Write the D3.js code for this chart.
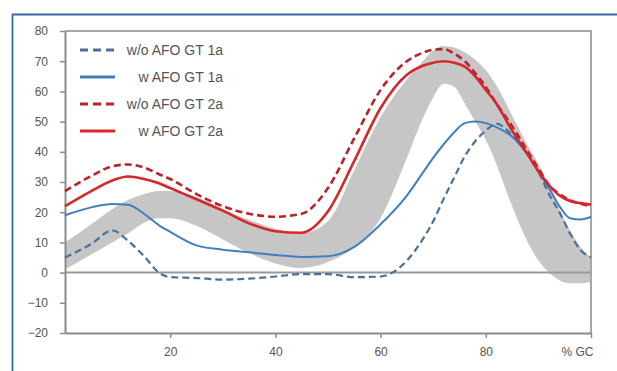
<!DOCTYPE html>
<html>
<head>
<meta charset="utf-8">
<script src="https://cdn.jsdelivr.net/npm/d3@7"></script>
<style>
  body { margin: 0; background: #fff; }
  svg text { font-family: "Liberation Sans", Arial, sans-serif; fill: #555; }
</style>
</head>
<body>
<div id="chart"></div>
<script>
// % gait cycle sample points
var gc = [0, 5, 9, 12, 15, 18, 20, 25, 30, 35, 40, 45, 50, 55, 60, 65, 68, 70, 72, 74, 76, 78, 80, 82, 85, 88, 90, 92, 94, 96, 98, 100];

// normal range (grey band)
var bandUpper = [10, 16, 21, 24, 26, 27, 27, 25, 21, 17.5, 14.5, 13, 17, 34, 51.5, 64, 70, 73.5, 75, 74.5, 73, 70.5, 67, 62, 52, 42, 36, 29, 21, 14, 8.5, 5];
var bandLower = [1, 6, 10, 13, 16.5, 18, 18, 15.5, 11, 6.5, 3, 1.5, 3.5, 8.5, 18, 38, 51, 58, 62.5, 61.5, 56, 50, 44, 36, 22, 10, 4, 0, -2.5, -3.5, -3.5, -3];

var woGT1a = [5, 9.5, 14, 10.5, 5.5, -0.2, -1.5, -1.8, -2.3, -2, -1.3, -0.5, -0.5, -1.5, -1.3, 4, 11, 17, 24.5, 31.5, 38.5, 43.5, 47, 49.3, 45.5, 39, 33.5, 26, 20, 13, 7.5, 5];
var wGT1a = [19, 21.6, 22.7, 22.5, 19.5, 15.5, 13.5, 9, 7.6, 6.7, 5.8, 5.2, 5.4, 8.5, 16, 25.5, 33, 38, 42.5, 46.5, 49.5, 50, 49.5, 48.2, 45, 39, 33.5, 28, 22, 18, 17.6, 18.5];
var woGT2a = [27, 32, 35.2, 35.8, 34.8, 32.5, 31, 26, 22, 19.5, 18.5, 19.5, 28, 44.5, 60.5, 70, 72.8, 73.8, 74, 72.5, 70, 66, 61.5, 56, 48.5, 40, 34.5, 29, 26, 24, 22.8, 22];
var wGT2a = [22, 27, 30.5, 31.8, 31, 29.5, 28, 24.3, 20.5, 16.3, 13.7, 13.2, 20.3, 37, 54.5, 65.5, 68.5, 69.5, 70, 69.5, 68.2, 65, 60.5, 56, 47, 39, 33.5, 29, 25.5, 23.7, 23, 22.5];

var seriesNames = ["w/o AFO GT 1a", "w AFO GT 1a", "w/o AFO GT 2a", "w AFO GT 2a"];
var seriesColors = ["#4a709c", "#3f7fbf", "#b8232a", "#d8262b"];
var seriesDash = ["7,4", null, "7,4", null];
var seriesWidth = [2.2, 2, 2.6, 2.6];

var yTicks = [-20, -10, 0, 10, 20, 30, 40, 50, 60, 70, 80];
var xTicks = [20, 40, 60, 80, 100];
var xTickLabels = ["20", "40", "60", "80", "% GC"];

var svgWidth = 617, svgHeight = 371;
var margin = {top: 31, left: 65, right: 26, bottom: 38};

var svg = d3.select("#chart")
    .append("svg")
    .attr("width", svgWidth)
    .attr("height", svgHeight);

// blue outer frame
svg.append("path")
    .attr("d", "M12.5,371 L12.5,14.5 L617,14.5")
    .attr("fill", "none")
    .attr("stroke", "#3566a0")
    .attr("stroke-width", 1.8);

var x = d3.scaleLinear()
    .domain([0, 100])
    .range([margin.left, svgWidth - margin.right]);

var y = d3.scaleLinear()
    .domain([-20, 80])
    .range([svgHeight - margin.bottom, margin.top]);

// band
var band = d3.area()
    .x(function (d, i) { return x(gc[i]); })
    .y0(function (d, i) { return y(bandLower[i]); })
    .y1(function (d, i) { return y(bandUpper[i]); })
    .curve(d3.curveMonotoneX);

svg.append("path")
    .datum(gc)
    .attr("fill", "#c6c6c6")
    .attr("d", band);

// plot border top / right
svg.append("path")
    .attr("d", "M" + x(0) + "," + y(80) + " L" + x(100) + "," + y(80) + " L" + x(100) + "," + y(-20))
    .attr("fill", "none")
    .attr("stroke", "#a6a6a6")
    .attr("stroke-width", 2);

// zero line
svg.append("line")
    .attr("x1", x(0))
    .attr("x2", x(100))
    .attr("y1", y(0))
    .attr("y2", y(0))
    .attr("stroke", "#999")
    .attr("stroke-width", 2);

// axes
var yAxis = d3.axisLeft(y)
    .tickValues(yTicks)
    .tickSize(5)
    .tickSizeOuter(0)
    .tickPadding(12);

var xAxis = d3.axisBottom(x)
    .tickValues(xTicks)
    .tickSize(5)
    .tickSizeOuter(0)
    .tickPadding(9)
    .tickFormat(function (d, i) { return xTickLabels[i]; });

var gy = svg.append("g")
    .attr("class", "y axis")
    .attr("transform", "translate(" + x(0) + ",0)")
    .call(yAxis);

var gx = svg.append("g")
    .attr("class", "x axis")
    .attr("transform", "translate(0," + y(-20) + ")")
    .call(xAxis);

[gy, gx].forEach(function (g) {
    g.select(".domain").attr("stroke", "#8c8c8c").attr("stroke-width", 2);
    g.selectAll(".tick line").attr("stroke", "#8c8c8c").attr("stroke-width", 1.5);
    g.selectAll(".tick text").style("font-size", "12px").attr("fill", "#555");
});
gx.selectAll(".tick text")
    .filter(function (d) { return d === 100; })
    .attr("text-anchor", "end")
    .attr("x", 2);

// lines
var allSeries = [woGT1a, wGT1a, woGT2a, wGT2a];

var line = d3.line()
    .x(function (d, i) { return x(gc[i]); })
    .y(function (d) { return y(d); })
    .curve(d3.curveMonotoneX);

allSeries.forEach(function (vals, k) {
    svg.append("path")
        .datum(vals)
        .attr("fill", "none")
        .attr("stroke", seriesColors[k])
        .attr("stroke-width", seriesWidth[k])
        .attr("stroke-dasharray", seriesDash[k])
        .attr("stroke-linejoin", "round")
        .attr("d", line);
});

// legend
var legend = svg.append("g")
    .attr("class", "legend")
    .attr("transform", "translate(80,50)");

var items = legend.selectAll("g")
    .data(seriesNames)
    .join("g")
    .attr("transform", function (d, i) { return "translate(0," + (i * 27) + ")"; });

items.append("line")
    .attr("x1", 0)
    .attr("x2", 35)
    .attr("stroke", function (d, i) { return seriesColors[i]; })
    .attr("stroke-width", 3)
    .attr("stroke-dasharray", function (d, i) { return seriesDash[i] ? "8,5" : null; });

items.append("text")
    .attr("x", 143)
    .attr("y", 5)
    .attr("text-anchor", "end")
    .style("font-size", "14px")
    .text(function (d) { return d; });
</script>
</body>
</html>
